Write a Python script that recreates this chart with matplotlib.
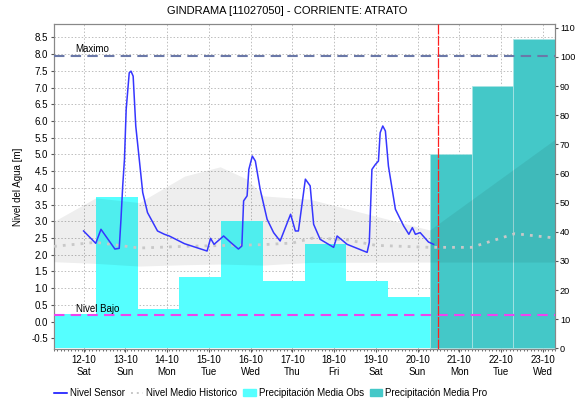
import pandas as pd
import matplotlib
matplotlib.use("Agg")
import matplotlib.pyplot as plt
import matplotlib.dates as mdates
import matplotlib.patches as patches
from matplotlib.lines import Line2D

plt.rcParams['font.family'] = ['Liberation Sans', 'DejaVu Sans']

# ---- data ----
sensor_time = ["10-12 00:00", "10-12 07:00", "10-12 10:00", "10-12 18:00", "10-12 20:30",
               "10-12 21:30", "10-12 22:30", "10-12 23:30", "10-13 00:30", "10-13 02:15",
               "10-13 03:15", "10-13 04:30", "10-13 06:00", "10-13 08:00", "10-13 10:00",
               "10-13 12:45", "10-13 18:30", "10-13 22:30", "10-14 01:15", "10-14 10:00",
               "10-14 23:00", "10-15 01:00", "10-15 03:00", "10-15 08:30", "10-15 12:30",
               "10-15 17:00", "10-15 19:00", "10-15 20:00", "10-15 22:00", "10-15 23:00",
               "10-16 01:00", "10-16 02:45", "10-16 05:30", "10-16 09:30", "10-16 13:15",
               "10-16 17:00", "10-16 23:00", "10-17 01:45", "10-17 03:30", "10-17 07:30",
               "10-17 10:15", "10-17 12:15", "10-17 16:00", "10-17 23:45", "10-18 01:45",
               "10-18 07:30", "10-18 19:00", "10-18 20:15", "10-18 21:45", "10-18 23:45",
               "10-19 01:30", "10-19 02:30", "10-19 04:00", "10-19 05:30", "10-19 07:15",
               "10-19 11:15", "10-19 16:00", "10-19 19:00", "10-19 21:00", "10-19 22:45",
               "10-20 01:30", "10-20 06:15", "10-20 09:15"]
sensor_level = [2.71, 2.34, 2.76, 2.17, 2.19,
                3.06, 4.06, 4.85, 6.35, 7.44,
                7.49, 7.34, 5.85, 4.86, 3.86,
                3.26, 2.71, 2.61, 2.56, 2.33,
                2.11, 2.49, 2.31, 2.56, 2.37,
                2.17, 2.26, 3.61, 3.76, 4.55,
                4.95, 4.80, 3.96, 3.06, 2.66,
                2.41, 3.21, 2.71, 2.71, 4.26,
                4.06, 2.91, 2.46, 2.22, 2.56,
                2.31, 2.07, 2.37, 4.55, 4.70,
                4.80, 5.65, 5.85, 5.70, 4.65,
                3.36, 2.86, 2.61, 2.81, 2.61,
                2.66, 2.38, 2.31]

hist_time = ["10-11 07:00", "10-12 07:00", "10-13 08:00", "10-14 10:00", "10-15 06:30",
             "10-15 22:00", "10-16 07:20", "10-17 10:00", "10-20 07:00", "10-23 07:00"]
hist_max = [3.0, 3.7, 3.56, 4.35, 4.63, 4.26, 3.76, 3.66, 2.74, 5.45]
hist_min = [1.79, 1.74, 1.66, 1.70, 1.72, 1.70, 1.69, 1.77, 1.78, 1.78]

mean_time = ["10-11 07:00", "10-12 07:00", "10-13 08:00", "10-14 10:00", "10-16 07:00",
             "10-17 00:00", "10-17 12:00", "10-18 07:00", "10-19 00:00", "10-20 07:00",
             "10-21 07:00", "10-22 08:00", "10-23 07:00"]
mean_level = [2.25, 2.37, 2.2, 2.25, 2.3, 2.35, 2.5, 2.45, 2.28, 2.22, 2.22, 2.63, 2.5]

obs_start = ["10-11 07:00", "10-12 07:00", "10-13 07:00", "10-14 07:00", "10-15 07:00",
             "10-16 07:00", "10-17 07:00", "10-18 07:00", "10-19 07:00"]
obs_precip = [11.7, 51.8, 13.4, 24.6, 43.8, 23.3, 35.7, 23.0, 17.7]
pro_start = ["10-20 07:00", "10-21 07:00", "10-22 07:00"]
pro_precip = [66.6, 90.0, 106.1]

nivel_maximo = 7.95
nivel_bajo = 0.2
now_time = "10-20 12:00"


def to_dt(labels):
    return pd.to_datetime(["2024-" + s for s in labels])


fig = plt.figure(figsize=(5.75, 4.03), dpi=100)
ax = fig.add_axes([54 / 575, 1 - 349 / 403, 501 / 575, 325 / 403])   # level axis, grid
axp = ax.twinx()                                                     # precipitation bars
axl = ax.twinx()                                                     # band + lines on top

x0, x1 = pd.Timestamp("2024-10-11 07:00"), pd.Timestamp("2024-10-23 07:00")
ylim = (-0.82, 8.9)

# precipitation bars
axp.bar(to_dt(obs_start), obs_precip, width=1.0, align="edge", color="#55FFFF",
        edgecolor="none")
axp.bar(to_dt(pro_start), pro_precip, width=1.0, align="edge", color="#44C8C8",
        edgecolor="#A8E4E4", linewidth=0.6)
axp.set_ylim(-0.2, 111.3)
axp.set_yticks(range(0, 111, 10))

# historic band and lines
axl.fill_between(to_dt(hist_time), hist_min, hist_max, color="black", alpha=0.065,
                 linewidth=0)
axl.plot(to_dt(mean_time), mean_level, color="#C8C8C8", lw=2.0,
         linestyle=(0, (1, 2.2)))
axl.plot(to_dt(sensor_time), sensor_level, color="#3636FF", lw=1.1)
axl.axhline(nivel_maximo, color="#6A78A8", lw=1.5, linestyle=(0, (5, 3)))
axl.axhline(nivel_bajo, color="#EE44EE", lw=1.5, linestyle=(0, (5, 3)))
axl.axvline(pd.Timestamp("2024-" + now_time), color="#FF2020", lw=0.9,
            linestyle=(0, (8, 1)))
axl.text(pd.Timestamp("2024-10-11 19:30"), nivel_maximo + 0.04, "Maximo", fontsize=7,
         va="bottom")
axl.text(pd.Timestamp("2024-10-11 19:30"), nivel_bajo + 0.02, "Nivel Bajo", fontsize=7,
         va="bottom")
axl.set_ylim(ylim)
axl.set_yticks([])
for s in axl.spines.values():
    s.set_visible(False)

# level axis with grid
ax.set_ylim(ylim)
ax.set_yticks([v / 2 for v in range(-1, 18)])
ax.yaxis.set_major_formatter(plt.FuncFormatter(lambda v, p: f"{v:.1f}"))
ax.set_ylabel("Nivel del Agua [m]", fontsize=7, labelpad=6)
ax.grid(True, color="#BDBDBD", linestyle=(0, (1.5, 2)), lw=0.7)
ax.set_xlim(x0, x1)
ax.xaxis.set_major_locator(mdates.DayLocator(bymonthday=range(12, 24)))
ax.xaxis.set_major_formatter(mdates.DateFormatter("%d-%m\n%a"))
ax.xaxis.set_minor_locator(mdates.HourLocator(interval=2))
ax.tick_params(axis="x", which="minor", length=1.5, color="#555555")
ax.tick_params(axis="both", which="major", labelsize=7, length=2.5, pad=2,
               color="#555555")
axp.tick_params(axis="y", labelsize=6.6, length=2.5, pad=1, color="#555555")

for a in (ax, axp):
    for s in a.spines.values():
        s.set_color("#888888")

fig.suptitle("GINDRAMA [11027050] - CORRIENTE: ATRATO", fontsize=8, y=0.985)

handles = [Line2D([], [], color="#0000FF", lw=1.1),
           Line2D([], [], color="#C8C8C8", lw=1.4, linestyle=(0, (1, 2))),
           patches.Patch(color="#55FFFF"),
           patches.Patch(color="#44C8C8")]
labels = ["Nivel Sensor", "Nivel Medio Historico", "Precipitación Media Obs",
          "Precipitación Media Pro"]
fig.legend(handles, labels, loc="center", bbox_to_anchor=(0.471, 0.025), ncol=4,
           frameon=False, fontsize=7, handlelength=1.3, handletextpad=0.3,
           columnspacing=0.6)

fig.savefig("out.png", dpi=100)
